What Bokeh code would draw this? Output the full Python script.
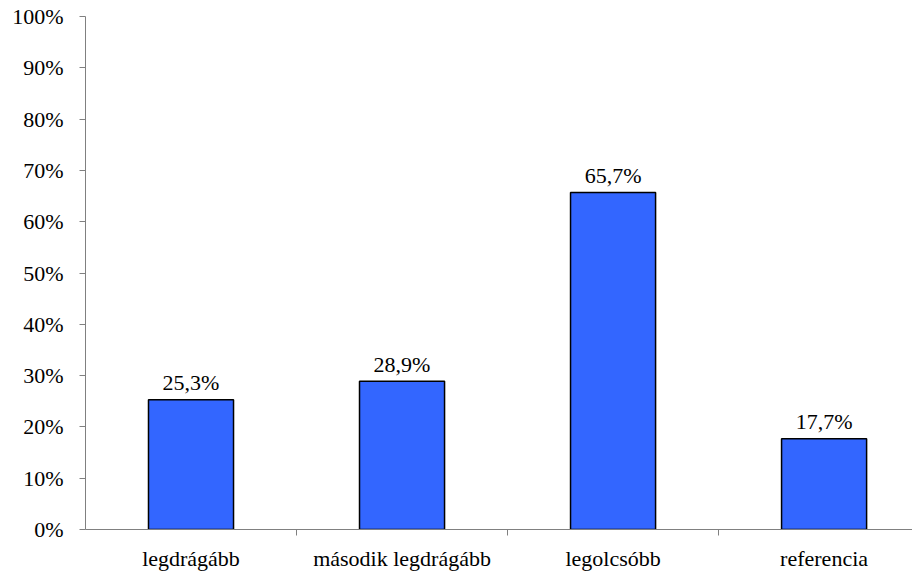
from bokeh.plotting import figure
from bokeh.models import ColumnDataSource, FixedTicker, Range1d, PrintfTickFormatter
from bokeh.core.properties import value
from bokeh.embed import file_html
from bokeh.resources import INLINE

categories = ["legdrágább", "második legdrágább", "legolcsóbb", "referencia"]
values = [25.3, 28.9, 65.7, 17.7]
y_ticks = [0, 10, 20, 30, 40, 50, 60, 70, 80, 90, 100]

FONT = "Liberation Serif"
FS = "22px"

xs = [i + 0.5 for i in range(len(categories))]
labels = [("%.1f%%" % v).replace(".", ",") for v in values]
src = ColumnDataSource(dict(x=xs, top=values, label=labels))

p = figure(width=912, height=573, output_backend="svg", toolbar_location=None,
           x_range=Range1d(0, 3.919), y_range=Range1d(0, 100),
           min_border_left=85, min_border_top=16, min_border_bottom=42, min_border_right=0)
p.outline_line_color = None
p.xgrid.visible = False
p.ygrid.visible = False
p.background_fill_color = "white"
p.border_fill_color = "white"

p.vbar(x="x", top="top", width=0.403, bottom=0, source=src,
       fill_color="#3366FF", line_color="black", line_width=1.5)
p.text(x="x", y="top", text="label", source=src, text_align="center",
       text_baseline="alphabetic", y_offset=-17,
       text_font=value(FONT), text_font_size=FS, text_color="black")

ax = p.xaxis[0]
ax.ticker = FixedTicker(ticks=xs, minor_ticks=[1, 2, 3])
ax.major_label_overrides = {x: c for x, c in zip(xs, categories)}
ax.major_tick_out = 0
ax.major_tick_in = 0
ax.minor_tick_out = 6
ax.minor_tick_in = 0
ax.minor_tick_line_color = "#808080"
ax.axis_line_color = "#808080"
ax.major_label_standoff = 10
ax.major_label_text_font = FONT
ax.major_label_text_font_size = FS
ax.major_label_text_color = "black"

ay = p.yaxis[0]
ay.ticker = FixedTicker(ticks=y_ticks, minor_ticks=[])
ay.formatter = PrintfTickFormatter(format="%d%%")
ay.major_tick_out = 6
ay.major_tick_in = 0
ay.minor_tick_out = 0
ay.minor_tick_in = 0
ay.major_tick_line_color = "#808080"
ay.axis_line_color = "#808080"
ay.major_label_standoff = 16
ay.major_label_text_font = FONT
ay.major_label_text_font_size = FS
ay.major_label_text_color = "black"

open("out.html", "w").write(file_html(p, INLINE))
